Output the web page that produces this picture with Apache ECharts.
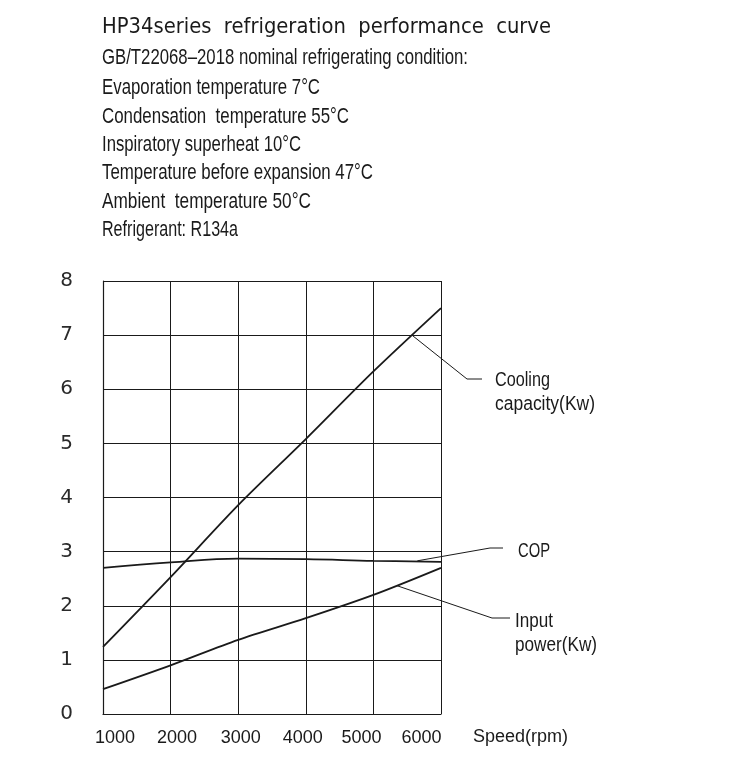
<!DOCTYPE html>
<html>
<head>
<meta charset="utf-8">
<script src="https://cdn.jsdelivr.net/npm/echarts@6/dist/echarts.min.js"></script>
<style>
html,body{margin:0;padding:0;background:#fff;}
#chart{width:750px;height:760px;}
</style>
</head>
<body>
<div id="chart"></div>
<script>
// ---- data ----
const speeds = [1000, 2000, 3000, 4000, 5000, 6000];
const coolingCapacity = [1.24, 2.53, 3.86, 5.08, 6.33, 7.50];
const copValues = [2.70, 2.80, 2.87, 2.86, 2.83, 2.81];
const inputPower = [0.46, 0.90, 1.37, 1.77, 2.20, 2.70];
const xTickLabels = ['1000', '2000', '3000', '4000', '5000', '6000'];
const yTickLabels = ['0', '1', '2', '3', '4', '5', '6', '7', '8'];
const titleText = 'HP34series  refrigeration  performance  curve';
const conditionLines = [
  'GB/T22068\u20132018 nominal refrigerating condition:',
  'Evaporation temperature 7\u00B0C',
  'Condensation  temperature 55\u00B0C',
  'Inspiratory superheat 10\u00B0C',
  'Temperature before expansion 47\u00B0C',
  'Ambient  temperature 50\u00B0C',
  'Refrigerant: R134a'
];
const seriesNames = ['Cooling capacity(Kw)', 'COP', 'Input power(Kw)'];
const calloutLabels = [['Cooling', 'capacity(Kw)'], ['COP'], ['Input', 'power(Kw)']];
const calloutAnchors = [[5570, 7.0], [5650, 2.83], [5350, 2.37]];

// ---- layout / style ----
const INK = '#1a1a1a';
const headerRows = [28, 58, 88, 117, 145, 173, 202, 230];
const headerWidths = [449, 366, 218, 247, 199, 271, 209, 136];
const calloutLayout = [
  {elbow: [467, 379], end: [482, 379], text: [[495, 380, 55], [495, 404, 100]]},
  {elbow: [490, 548], end: [503, 548], text: [[518, 551, 32]]},
  {elbow: [492, 618], end: [510, 618], text: [[515, 621, 38], [515, 645, 82]]}
];
const xLabelShift = [12, 6.5, 2.5, -3, -12, -19.5];

const canvas = document.createElement('canvas');
const ctx = canvas.getContext('2d');
function scaleFor(text, font, target) {
  ctx.font = font;
  const w = ctx.measureText(text).width;
  return w > 0 ? target / w : 1;
}

const pairs = arr => speeds.map((s, i) => [s, arr[i]]);

const rich = {};
xLabelShift.forEach((d, i) => {
  rich['s' + i] = {
    fontFamily: 'Liberation Sans',
    fontSize: 18,
    color: INK,
    padding: d >= 0 ? [0, 0, 0, 2 * d] : [0, -2 * d, 0, 0]
  };
});

const chart = echarts.init(document.getElementById('chart'), null, {renderer: 'canvas'});

const option = {
  backgroundColor: '#fff',
  animation: false,
  grid: {left: 103, top: 281, right: 309, bottom: 46, containLabel: false},
  xAxis: {
    type: 'value',
    min: 1000, max: 6000, interval: 1000,
    name: 'Speed(rpm)',
    nameLocation: 'end',
    nameGap: 32,
    nameTextStyle: {fontFamily: 'Liberation Sans', fontSize: 18, color: INK, verticalAlign: 'top', padding: [14, 0, 0, 0]},
    axisLine: {show: true, lineStyle: {color: INK, width: 1.2}},
    axisTick: {show: false},
    splitLine: {show: true, lineStyle: {color: INK, width: 1}},
    axisLabel: {
      margin: 15,
      formatter: (v) => {
        const i = speeds.indexOf(v);
        if (i < 0) return '';
        return '{s' + i + '|' + xTickLabels[i] + '}';
      },
      rich: rich
    }
  },
  yAxis: {
    type: 'value',
    min: 0, max: 8, interval: 1,
    axisLine: {show: true, lineStyle: {color: INK, width: 1.2}},
    axisTick: {show: false},
    splitLine: {show: true, lineStyle: {color: INK, width: 1}},
    axisLabel: {
      margin: 30,
      fontFamily: 'DejaVu Sans',
      fontSize: 20,
      color: '#2a2a2a',
      formatter: (v) => yTickLabels[Math.round(v)] || ''
    }
  },
  series: [
    {name: seriesNames[0], type: 'line', data: pairs(coolingCapacity), smooth: 0.3, showSymbol: false, lineStyle: {color: INK, width: 1.8}, z: 3},
    {name: seriesNames[1], type: 'line', data: pairs(copValues), smooth: 0.4, showSymbol: false, lineStyle: {color: INK, width: 1.8}, z: 3},
    {name: seriesNames[2], type: 'line', data: pairs(inputPower), smooth: 0.3, showSymbol: false, lineStyle: {color: INK, width: 1.8}, z: 3}
  ]
};
chart.setOption(option);

// header texts + callouts
const graphics = [];
const titleFont = '21px "DejaVu Sans"';
graphics.push({
  type: 'text', x: 102, y: headerRows[0],
  scaleX: scaleFor(titleText, titleFont, headerWidths[0]),
  style: {text: titleText, font: titleFont, fill: INK, textVerticalAlign: 'middle', textAlign: 'left'}
});
const bodyFont = '22px "Liberation Sans"';
conditionLines.forEach((t, i) => {
  graphics.push({
    type: 'text', x: 102, y: headerRows[i + 1],
    scaleX: scaleFor(t, bodyFont, headerWidths[i + 1]),
    style: {text: t, font: bodyFont, fill: INK, textVerticalAlign: 'middle', textAlign: 'left'}
  });
});

const labelFont = '20px "Liberation Sans"';
calloutAnchors.forEach((a, k) => {
  const p = chart.convertToPixel({gridIndex: 0}, a);
  const L = calloutLayout[k];
  graphics.push({
    type: 'polyline',
    shape: {points: [p, L.elbow, L.end]},
    style: {stroke: INK, lineWidth: 1, fill: null},
    z: 5
  });
  calloutLabels[k].forEach((t, j) => {
    const [tx, ty, tw] = L.text[j];
    graphics.push({
      type: 'text', x: tx, y: ty,
      scaleX: scaleFor(t, labelFont, tw),
      style: {text: t, font: labelFont, fill: INK, textVerticalAlign: 'middle', textAlign: 'left'}
    });
  });
});

chart.setOption({graphic: graphics});
</script>
</body>
</html>
